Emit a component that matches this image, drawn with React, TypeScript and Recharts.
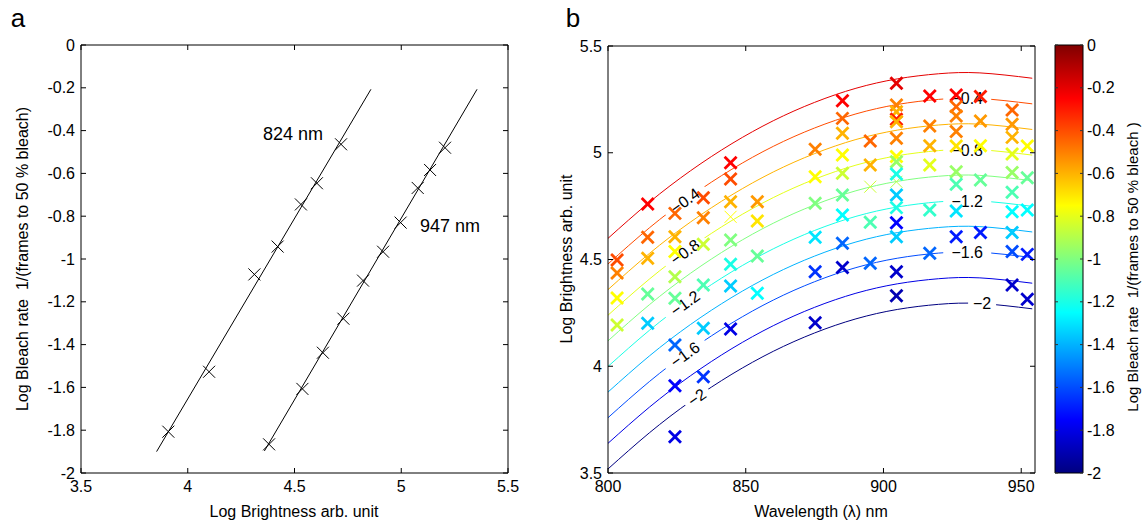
import React from 'react';
import {
  ComposedChart,
  Line,
  Scatter,
  Bar,
  XAxis,
  YAxis,
  ReferenceLine,
} from 'recharts';

const FONT = '"Liberation Sans", Arial, Helvetica, sans-serif';

// ---------- panel a : bleach rate vs brightness ----------
const ticksAX = [3.5, 4, 4.5, 5, 5.5];
const ticksAY = [0, -0.2, -0.4, -0.6, -0.8, -1, -1.2, -1.4, -1.6, -1.8, -2];

const brightness824 = [3.909, 4.1, 4.312, 4.421, 4.53, 4.605, 4.718];
const bleach824 = [-1.807, -1.527, -1.072, -0.942, -0.745, -0.646, -0.464];
const fitX824 = [3.854, 4.858];
const fitY824 = [-1.9, -0.207];

const brightness947 = [4.381, 4.537, 4.633, 4.729, 4.821, 4.915, 4.997, 5.077, 5.135, 5.205];
const bleach947 = [-1.866, -1.607, -1.438, -1.279, -1.101, -0.966, -0.83, -0.668, -0.584, -0.48];
const fitX947 = [4.359, 5.355];
const fitY947 = [-1.897, -0.207];

// ---------- panel b : contour map ----------
const ticksBX = [800, 850, 900, 950];
const ticksBY = [3.5, 4, 4.5, 5, 5.5];
const ticksCB = [0, -0.2, -0.4, -0.6, -0.8, -1, -1.2, -1.4, -1.6, -1.8, -2];

const gridWl = [800, 815, 830, 845, 860, 875, 890, 905, 920, 935, 954];
const contourLevels = [-0.2, -0.4, -0.6, -0.8, -1, -1.2, -1.4, -1.6, -1.8, -2];
const contour02 = [4.599, 4.768, 4.916, 5.043, 5.15, 5.236, 5.302, 5.346, 5.37, 5.374, 5.349];
const contour04 = [4.479, 4.648, 4.796, 4.923, 5.03, 5.116, 5.182, 5.226, 5.25, 5.254, 5.229];
const contour06 = [4.359, 4.528, 4.676, 4.803, 4.91, 4.996, 5.062, 5.106, 5.13, 5.134, 5.109];
const contour08 = [4.239, 4.408, 4.556, 4.683, 4.79, 4.876, 4.942, 4.986, 5.01, 5.014, 4.989];
const contour10 = [4.119, 4.288, 4.436, 4.563, 4.67, 4.756, 4.822, 4.866, 4.89, 4.894, 4.869];
const contour12 = [3.999, 4.168, 4.316, 4.443, 4.55, 4.636, 4.702, 4.746, 4.77, 4.774, 4.749];
const contour14 = [3.879, 4.048, 4.196, 4.323, 4.43, 4.516, 4.582, 4.626, 4.65, 4.654, 4.629];
const contour16 = [3.759, 3.928, 4.076, 4.203, 4.31, 4.396, 4.462, 4.506, 4.53, 4.534, 4.509];
const contour18 = [3.639, 3.808, 3.956, 4.083, 4.19, 4.276, 4.342, 4.386, 4.41, 4.414, 4.389];
const contour20 = [3.519, 3.688, 3.836, 3.963, 4.07, 4.156, 4.222, 4.266, 4.29, 4.294, 4.269];
const contours = [contour02, contour04, contour06, contour08, contour10, contour12, contour14, contour16, contour18, contour20];

const labelText = ['\u22120.4', '\u22120.8', '\u22121.2', '\u22121.6', '\u22122', '\u22120.4', '\u22120.8', '\u22121.2', '\u22121.6', '\u22122'];
const labelWl = [827.9, 827.9, 827.9, 827.9, 832.2, 930.4, 930.4, 930.4, 930.4, 935.8];
const labelLogB = [4.777, 4.537, 4.297, 4.057, 3.856, 5.255, 5.015, 4.775, 4.535, 4.294];
const labelAngle = [-36, -36, -36, -36, -35, 0, 0, 0, 0, 0];

const markerWl = [
  803.3, 803.3, 803.3, 803.3,
  814.4, 814.4, 814.4, 814.4, 814.4,
  824.3, 824.3, 824.3, 824.3, 824.3, 824.3, 824.3, 824.3,
  834.6, 834.6, 834.6, 834.6, 834.6, 834.6,
  844.5, 844.5, 844.5, 844.5, 844.5, 844.5, 844.5,
  854.2, 854.2, 854.2, 854.2,
  875.2, 875.2, 875.2, 875.2, 875.2, 875.2,
  885.1, 885.1, 885.1, 885.1, 885.1, 885.1, 885.1, 885.1, 885.1,
  895.2, 895.2, 895.2, 895.2,
  904.7, 904.7, 904.7, 904.7, 904.7, 904.7, 904.7, 904.7, 904.7, 904.7, 904.7, 904.7, 904.7, 904.7, 904.7,
  916.8, 916.8, 916.8, 916.8, 916.8, 916.8,
  926.4, 926.4, 926.4, 926.4, 926.4, 926.4, 926.4, 926.4, 926.4,
  935.2, 935.2, 935.2, 935.2, 935.2,
  946.7, 946.7, 946.7, 946.7, 946.7, 946.7, 946.7, 946.7, 946.7, 946.7,
  952.2, 952.2, 952.2, 952.2, 952.2,
];
const markerLogB = [
  4.498, 4.437, 4.32, 4.193,
  4.76, 4.604, 4.506, 4.338, 4.201,
  4.716, 4.607, 4.537, 4.419, 4.318, 4.1, 3.909, 3.67,
  4.789, 4.696, 4.571, 4.381, 4.178, 3.951,
  4.953, 4.877, 4.771, 4.591, 4.478, 4.376, 4.174,
  4.771, 4.68, 4.516, 4.342,
  5.016, 4.888, 4.763, 4.604, 4.443, 4.204,
  5.244, 5.161, 5.091, 4.989, 4.904, 4.802, 4.708, 4.576, 4.463,
  5.055, 4.943, 4.674, 4.482,
  5.325, 5.224, 5.192, 5.157, 5.145, 5.068, 4.982, 4.958, 4.9, 4.802, 4.743, 4.672, 4.607, 4.443, 4.33,
  5.266, 5.125, 5.033, 4.943, 4.732, 4.529,
  5.27, 5.216, 5.172, 5.099, 5.032, 4.911, 4.852, 4.727, 4.607,
  5.263, 5.149, 5.033, 4.872, 4.627,
  5.2, 5.133, 5.072, 4.994, 4.908, 4.815, 4.724, 4.627, 4.537, 4.381,
  5.032, 4.883, 4.732, 4.524, 4.314,
];
const markerRate = [
  -0.4, -0.5, -0.75, -0.85,
  -0.25, -0.45, -0.6, -1.05, -1.35,
  -0.45, -0.6, -0.75, -0.9, -1.05, -1.55, -1.75, -1.8,
  -0.4, -0.5, -0.85, -1.1, -1.35, -1.65,
  -0.25, -0.4, -0.6, -1.0, -1.2, -1.35, -1.8,
  -0.55, -0.7, -1.05, -1.25,
  -0.5, -0.75, -1.0, -1.3, -1.65, -1.85,
  -0.25, -0.45, -0.6, -0.75, -0.85, -1.05, -1.25, -1.55, -1.85,
  -0.45, -0.6, -1.1, -1.55,
  -0.2, -0.5, -0.6, -0.3, -0.6, -0.5, -0.75, -0.95, -1.2, -1.35, -1.2, -1.75, -1.35, -1.85, -1.9,
  -0.25, -0.5, -0.6, -0.8, -1.15, -1.55,
  -0.25, -0.45, -0.5, -0.5, -0.7, -0.95, -1.1, -1.3, -1.7,
  -0.3, -0.55, -0.75, -1.05, -1.7,
  -0.45, -0.55, -0.6, -0.8, -0.95, -1.1, -1.25, -1.35, -1.6, -1.85,
  -0.75, -1.05, -1.25, -1.7, -1.85,
];
// a second, lighter set of markers (thin crosses)
const thinWl = [844.5, 895.2, 904.7];
const thinLogB = [4.7, 4.841, 4.864];
const thinRate = [-0.75, -0.85, -0.9];

// colour bar range
const colourBarRange = [-2, 0];

// ---------- helpers ----------
const jet = (v: number) => {
  const t = (v + 2) / 2;
  const c = (d: number) => Math.round(255 * Math.max(0, Math.min(1, 1.5 - Math.abs(4 * t - d))));
  return `rgb(${c(3)},${c(2)},${c(1)})`;
};

const pts = (xs: number[], ys: number[]) => xs.map((x, i) => ({ x, y: ys[i] }));

const dataA824 = pts(brightness824, bleach824);
const dataA947 = pts(brightness947, bleach947);
const fitA824 = pts(fitX824, fitY824);
const fitA947 = pts(fitX947, fitY947);

const contourData = contours.map((c) => pts(gridWl, c));
const labelData = labelWl.map((x, i) => ({ x, y: labelLogB[i], text: labelText[i], angle: labelAngle[i] }));
const markerData = markerWl.map((x, i) => ({ x, y: markerLogB[i], rate: markerRate[i] }));
const thinData = thinWl.map((x, i) => ({ x, y: thinLogB[i], rate: thinRate[i] }));
const colourBarData = [{ c: 'cb', range: colourBarRange }];

const Cross = ({ cx, cy, r, color, width }: any) => (
  <g>
    <line x1={cx - r} y1={cy - r} x2={cx + r} y2={cy + r} stroke={color} strokeWidth={width} />
    <line x1={cx - r} y1={cy + r} x2={cx + r} y2={cy - r} stroke={color} strokeWidth={width} />
  </g>
);

const fmt = (v: number) => String(v);

// inward ticks on both sides of the box, label outside
const xTick = (top: number, bottom: number) => (p: any) => (
  <g>
    <line x1={p.x} x2={p.x} y1={bottom} y2={bottom - 5} stroke="#000" />
    <line x1={p.x} x2={p.x} y1={top} y2={top + 5} stroke="#000" />
    <text x={p.x} y={bottom + 19} textAnchor="middle" fontSize={16} fontFamily={FONT} fill="#000">
      {fmt(p.payload.value)}
    </text>
  </g>
);

const yTick = (left: number, right: number) => (p: any) => (
  <g>
    <line x1={left} x2={left + 5} y1={p.y} y2={p.y} stroke="#000" />
    <line x1={right} x2={right - 5} y1={p.y} y2={p.y} stroke="#000" />
    <text x={left - 6} y={p.y + 5.5} textAnchor="end" fontSize={16} fontFamily={FONT} fill="#000">
      {fmt(p.payload.value)}
    </text>
  </g>
);

const cbTick = (left: number, right: number) => (p: any) => (
  <g>
    <line x1={left} x2={left + 3} y1={p.y} y2={p.y} stroke="#333" />
    <line x1={right} x2={right - 3} y1={p.y} y2={p.y} stroke="#333" />
    <text x={right + 4} y={p.y + 5.5} textAnchor="start" fontSize={16} fontFamily={FONT} fill="#000">
      {fmt(p.payload.value)}
    </text>
  </g>
);

const Txt = ({ x, y, angle = 0, size = 16, children, anchor = 'middle' }: any) => (
  <text
    x={x}
    y={y}
    transform={angle ? `rotate(${angle} ${x} ${y})` : undefined}
    textAnchor={anchor}
    fontSize={size}
    fontFamily={FONT}
    fill="#000"
  >
    {children}
  </text>
);

const ContourLabel = (p: any) => {
  const w = p.payload.text.length > 2 ? 48 : 28;
  return (
    <g transform={`translate(${p.cx},${p.cy}) rotate(${p.payload.angle})`}>
      <rect x={-w / 2} y={-8} width={w} height={16} fill="#fff" />
      <text x={0} y={6} textAnchor="middle" fontSize={16} fontFamily={FONT} fill="#000">
        {p.payload.text}
      </text>
    </g>
  );
};

// panel a box (chart-local px)
const A = { left: 81, right: 508, top: 45, bottom: 473 };
// panel b box (chart-local px, chart starts at x = 530)
const B = { left: 78, right: 505, top: 46, bottom: 473 };
// colour bar box (chart-local px, chart starts at x = 1040)
const C = { left: 15, right: 43, top: 45, bottom: 473 };

const overlay: React.CSSProperties = { position: 'absolute', left: 0, top: 0, pointerEvents: 'none' };
const SP2 = '\u00a0\u00a0';

export default function App() {
  return (
    <div style={{ position: 'absolute', left: 0, top: 0, width: 1144, height: 525, background: '#fff', overflow: 'hidden' }}>
      {/* ---- panel a ---- */}
      <div style={{ position: 'absolute', left: 0, top: 0, width: 530, height: 525 }}>
        <ComposedChart width={530} height={525} margin={{ top: A.top, right: 530 - A.right, bottom: 0, left: 0 }}>
          <XAxis
            type="number"
            dataKey="x"
            domain={[3.5, 5.5]}
            ticks={ticksAX}
            interval={0}
            height={525 - A.bottom}
            stroke="#000"
            tickLine={false}
            tick={xTick(A.top, A.bottom)}
            allowDataOverflow
          />
          <YAxis
            type="number"
            dataKey="y"
            domain={[-2, 0]}
            ticks={ticksAY}
            interval={0}
            width={A.left}
            stroke="#000"
            tickLine={false}
            tick={yTick(A.left, A.right)}
            allowDataOverflow
          />
          <ReferenceLine y={0} stroke="#000" />
          <ReferenceLine x={5.5} stroke="#000" />
          <Line data={fitA824} dataKey="y" type="linear" stroke="#000" strokeWidth={1} dot={false} isAnimationActive={false} />
          <Line data={fitA947} dataKey="y" type="linear" stroke="#000" strokeWidth={1} dot={false} isAnimationActive={false} />
          <Scatter data={dataA824} isAnimationActive={false} shape={(p: any) => <Cross cx={p.cx} cy={p.cy} r={6} color="#000" width={1} />} />
          <Scatter data={dataA947} isAnimationActive={false} shape={(p: any) => <Cross cx={p.cx} cy={p.cy} r={6} color="#000" width={1} />} />
        </ComposedChart>
        <svg width={530} height={525} style={overlay}>
          <Txt x={18} y={27} size={26}>a</Txt>
          <Txt x={263} y={140} size={18} anchor="start">824 nm</Txt>
          <Txt x={420} y={232} size={18} anchor="start">947 nm</Txt>
          <Txt x={294} y={517}>Log Brightness arb. unit</Txt>
          <Txt x={28} y={259} angle={-90}>{`Log Bleach rate${SP2}1/(frames to 50 % bleach)`}</Txt>
        </svg>
      </div>

      {/* ---- panel b ---- */}
      <div style={{ position: 'absolute', left: 530, top: 0, width: 510, height: 525 }}>
        <ComposedChart width={510} height={525} margin={{ top: B.top, right: 510 - B.right, bottom: 0, left: 0 }}>
          <XAxis
            type="number"
            dataKey="x"
            domain={[800, 955]}
            ticks={ticksBX}
            interval={0}
            height={525 - B.bottom}
            stroke="#000"
            tickLine={false}
            tick={xTick(B.top, B.bottom)}
            allowDataOverflow
          />
          <YAxis
            type="number"
            dataKey="y"
            domain={[3.5, 5.5]}
            ticks={ticksBY}
            interval={0}
            width={B.left}
            stroke="#000"
            tickLine={false}
            tick={yTick(B.left, B.right)}
            allowDataOverflow
          />
          <ReferenceLine y={5.5} stroke="#000" />
          <ReferenceLine x={955} stroke="#000" />
          {contourData.map((d, k) => (
            <Line
              key={k}
              data={d}
              dataKey="y"
              type="natural"
              stroke={jet(contourLevels[k])}
              strokeWidth={1}
              dot={false}
              isAnimationActive={false}
            />
          ))}
          <Scatter data={labelData} isAnimationActive={false} shape={ContourLabel} />
          <Scatter
            data={thinData}
            isAnimationActive={false}
            shape={(p: any) => <Cross cx={p.cx} cy={p.cy} r={6} color={jet(p.payload.rate)} width={1} />}
          />
          <Scatter
            data={markerData}
            isAnimationActive={false}
            shape={(p: any) => <Cross cx={p.cx} cy={p.cy} r={6} color={jet(p.payload.rate)} width={2.8} />}
          />
        </ComposedChart>
        <svg width={510} height={525} style={overlay}>
          <Txt x={43} y={27} size={26}>b</Txt>
          <Txt x={291} y={517}>Wavelength (λ) nm</Txt>
          <Txt x={42} y={259} angle={-90}>Log Brightness arb. unit</Txt>
        </svg>
      </div>

      {/* ---- colour bar ---- */}
      <div style={{ position: 'absolute', left: 1040, top: 0, width: 104, height: 525 }}>
        <ComposedChart
          width={104}
          height={525}
          data={colourBarData}
          barCategoryGap={0}
          margin={{ top: C.top, right: 0, bottom: 525 - C.bottom, left: C.left }}
        >
          <defs>
            <linearGradient id="jetGrad" x1="0" y1="1" x2="0" y2="0">
              <stop offset="0" stopColor="rgb(0,0,128)" />
              <stop offset="0.125" stopColor="rgb(0,0,255)" />
              <stop offset="0.375" stopColor="rgb(0,255,255)" />
              <stop offset="0.625" stopColor="rgb(255,255,0)" />
              <stop offset="0.875" stopColor="rgb(255,0,0)" />
              <stop offset="1" stopColor="rgb(128,0,0)" />
            </linearGradient>
          </defs>
          <XAxis dataKey="c" hide />
          <YAxis
            orientation="right"
            type="number"
            domain={[-2, 0]}
            ticks={ticksCB}
            interval={0}
            width={104 - C.right - C.left + 15}
            axisLine={false}
            tickLine={false}
            tick={cbTick(C.left, C.right)}
          />
          <Bar dataKey="range" fill="url(#jetGrad)" stroke="#000" strokeWidth={1} isAnimationActive={false} />
        </ComposedChart>
        <svg width={104} height={525} style={overlay}>
          <Txt x={98} y={267} size={15} angle={-90}>{`Log Bleach rate${SP2}1/(frames to 50 % bleach )`}</Txt>
        </svg>
      </div>
    </div>
  );
}
